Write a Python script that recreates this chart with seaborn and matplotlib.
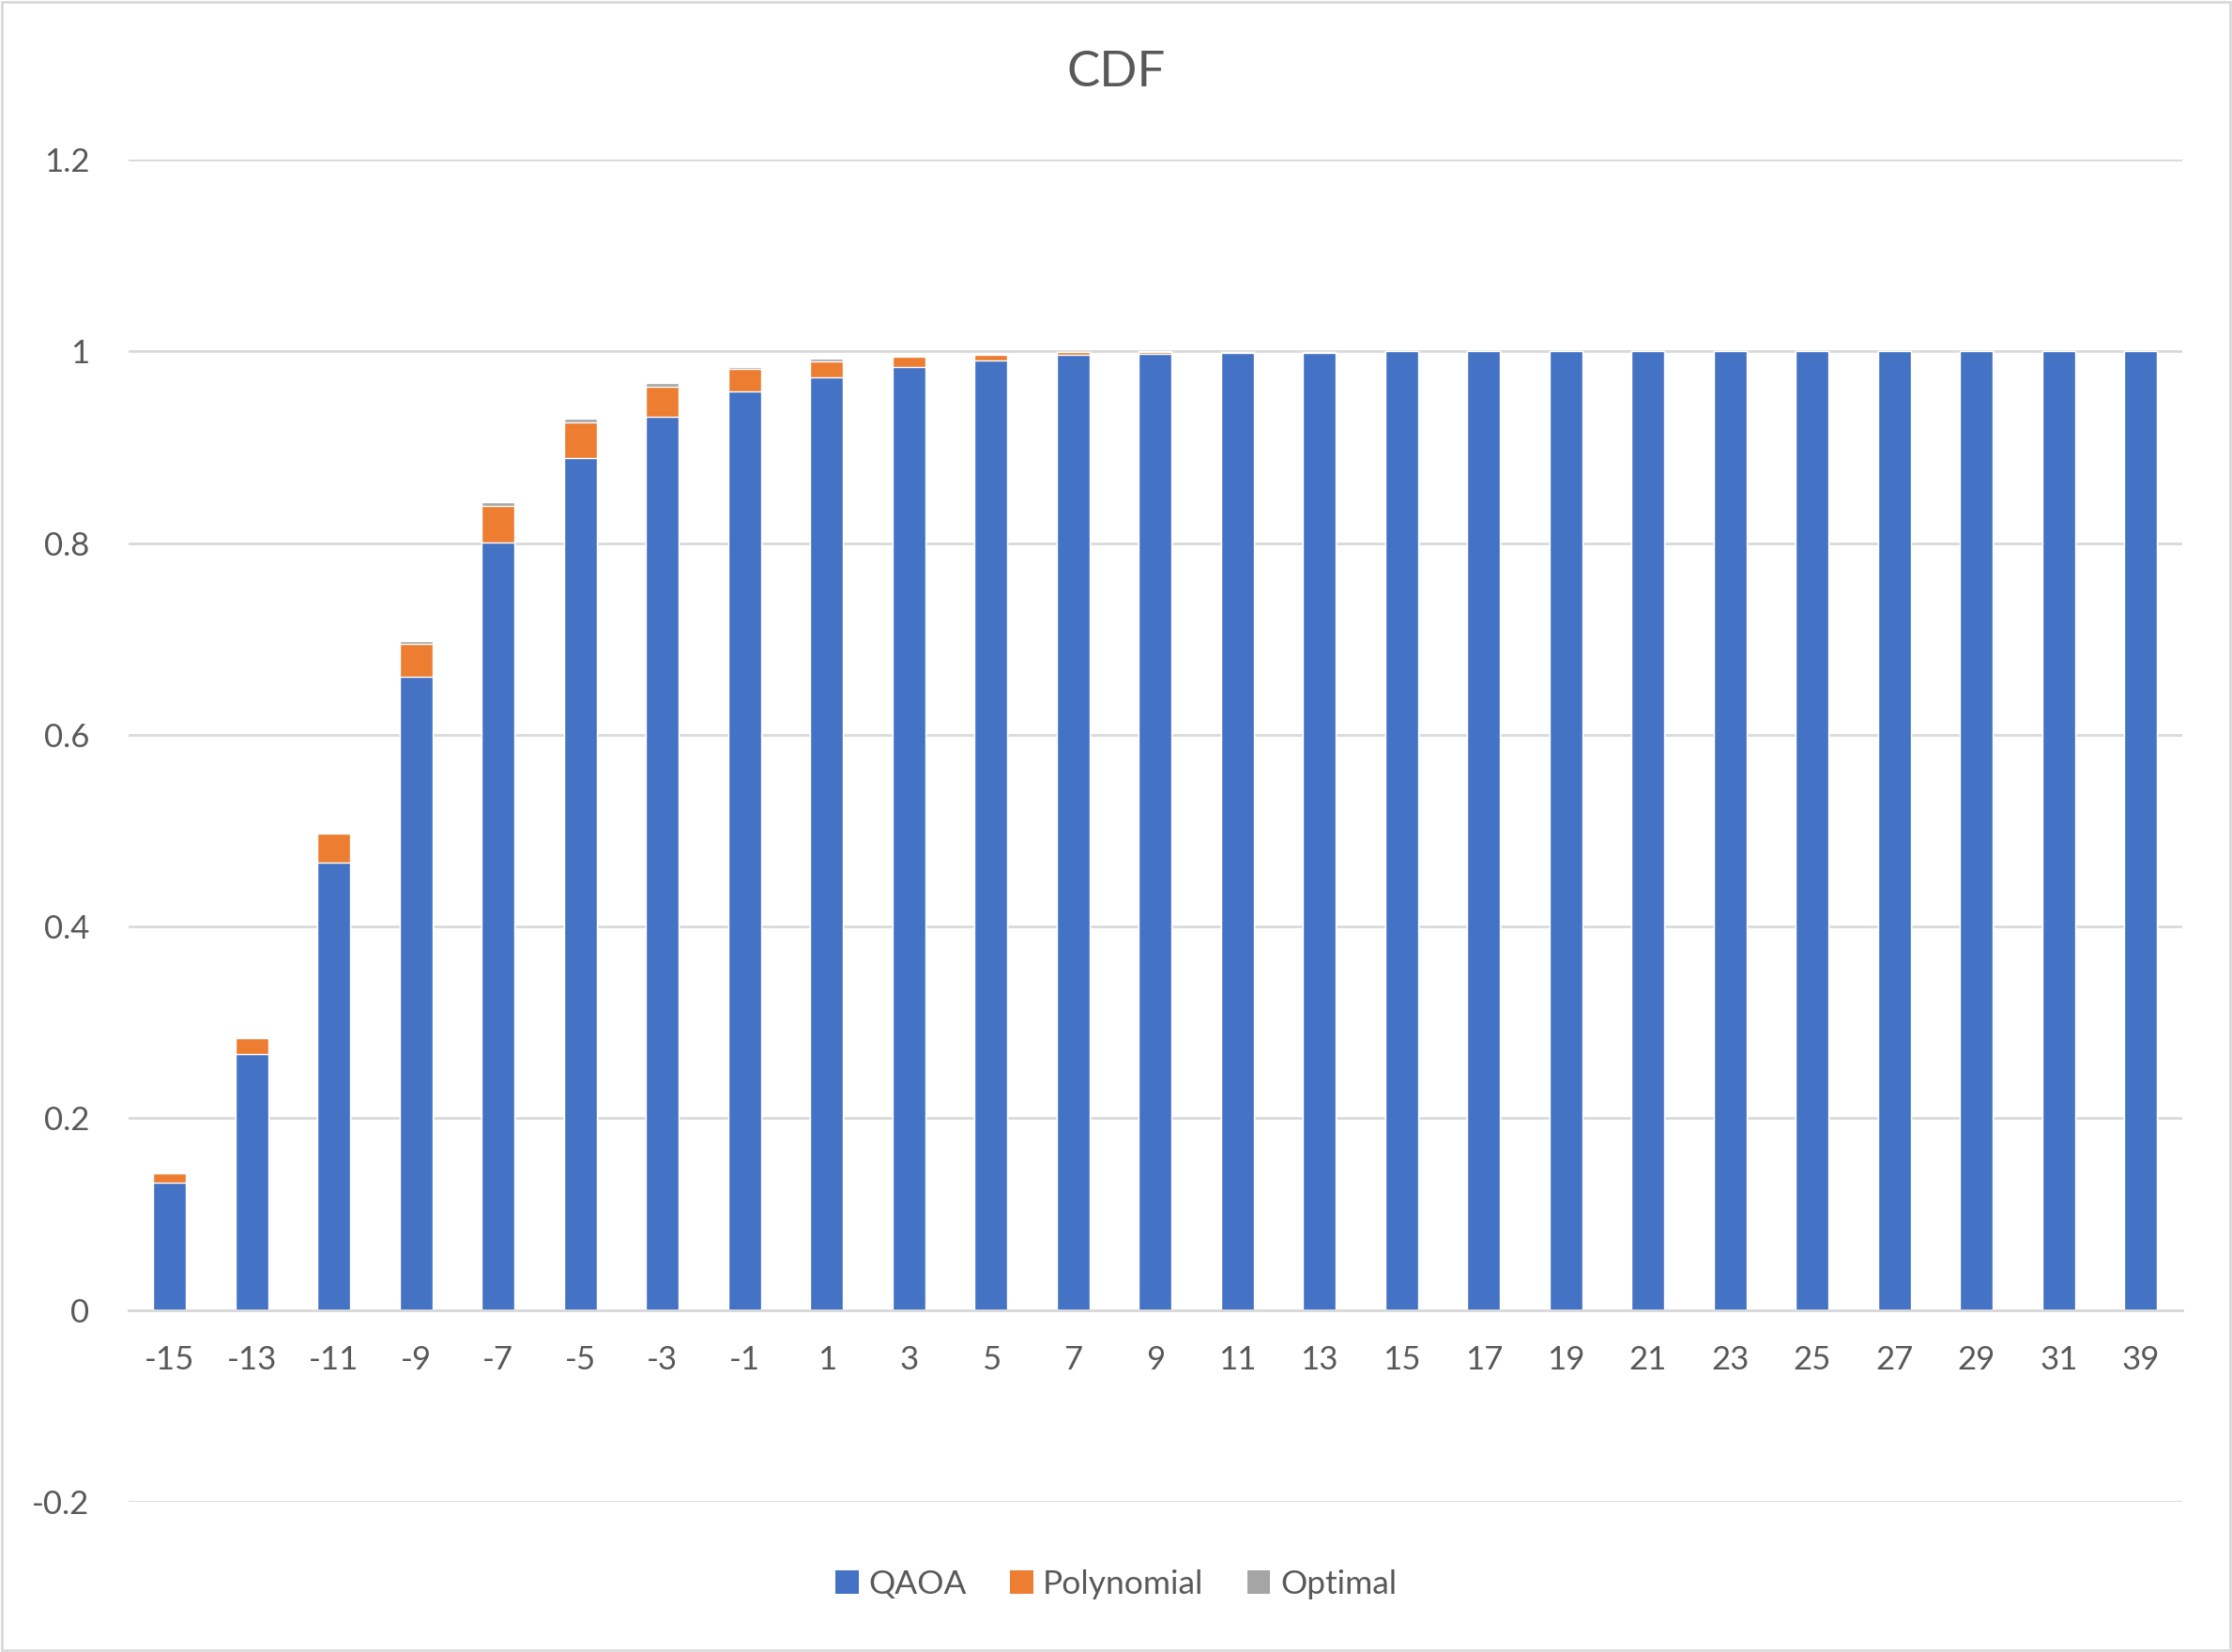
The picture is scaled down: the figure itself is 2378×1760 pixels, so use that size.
import pandas as pd
import numpy as np
import matplotlib
matplotlib.use("Agg")
import matplotlib.pyplot as plt
import seaborn as sns
from matplotlib.patches import Patch, Rectangle

categories = ["-15", "-13", "-11", "-9", "-7", "-5", "-3", "-1", "1", "3", "5", "7",
              "9", "11", "13", "15", "17", "19", "21", "23", "25", "27", "29", "31", "39"]
qaoa = [0.133, 0.267, 0.467, 0.661, 0.801, 0.889, 0.932, 0.958, 0.973, 0.984, 0.9905, 0.996,
        0.9977, 0.998, 0.998, 1.0, 1.0, 1.0, 1.0, 1.0, 1.0, 1.0, 1.0, 1.0, 1.0]
polynomial = [0.010, 0.017, 0.030, 0.034, 0.038, 0.037, 0.031, 0.024, 0.017, 0.010, 0.006, 0.003,
              0.002, 0.0015, 0.0015, 0, 0, 0, 0, 0, 0, 0, 0, 0, 0]
optimal = [0.0, 0.0, 0.001, 0.003, 0.004, 0.004, 0.004, 0.002, 0.002, 0.0005, 0.0005, 0.0005,
           0.0003, 0.0002, 0.0002, 0, 0, 0, 0, 0, 0, 0, 0, 0, 0]

colors = {"QAOA": "#4472C4", "Polynomial": "#ED7D31", "Optimal": "#A5A5A5"}
text_color = "#595959"
grid_color = "#D9D9D9"

df = pd.DataFrame({"x": categories, "QAOA": qaoa, "Polynomial": polynomial, "Optimal": optimal})
df["poly_top"] = df["QAOA"] + df["Polynomial"]
df["total"] = df["poly_top"] + df["Optimal"]

sns.set_style("white")
plt.rcParams["font.family"] = ["Lato", "DejaVu Sans"]

fig = plt.figure(figsize=(23.78, 17.60), dpi=100)
ax = fig.add_axes([0.0576, 0.0909, 0.92, 0.8125])

# stacked bars: draw cumulative totals, biggest first
for col, name in [("total", "Optimal"), ("poly_top", "Polynomial"), ("QAOA", "QAOA")]:
    sns.barplot(data=df, x="x", y=col, order=categories, color=colors[name],
                saturation=1, width=0.4, ax=ax, errorbar=None)

ax.set_ylim(-0.2, 1.2)
ax.set_yticks([-0.2, 0, 0.2, 0.4, 0.6, 0.8, 1.0, 1.2])
ax.set_yticklabels(["-0.2", "0", "0.2", "0.4", "0.6", "0.8", "1", "1.2"])
ax.set_xlim(-0.5, len(categories) - 0.5)
ax.yaxis.grid(True, color=grid_color, linewidth=2)
ax.set_axisbelow(True)
for s in ["top", "right", "left"]:
    ax.spines[s].set_visible(False)
ax.spines["bottom"].set_position(("data", 0))
ax.spines["bottom"].set_color(grid_color)
ax.spines["bottom"].set_linewidth(2)
ax.tick_params(axis="both", length=0, labelsize=25, colors=text_color)
ax.tick_params(axis="x", pad=27)
ax.tick_params(axis="y", pad=30)
ax.set_xlabel("")
ax.set_ylabel("")

fig.text(0.5, 0.956, "CDF", ha="center", va="center", fontsize=38, color=text_color)

handles = [Patch(facecolor=colors[k], edgecolor="none") for k in ["QAOA", "Polynomial", "Optimal"]]
fig.legend(handles, ["QAOA", "Polynomial", "Optimal"], loc="center", bbox_to_anchor=(0.5, 0.041),
           ncol=3, frameon=False, fontsize=25.5, labelcolor=text_color,
           handlelength=0.7, handleheight=0.7, handletextpad=0.3, columnspacing=1.3)

fig.patches.append(Rectangle((0.001, 0.001), 0.998, 0.998, transform=fig.transFigure,
                             fill=False, edgecolor=grid_color, linewidth=2))

fig.savefig("out.png", dpi=100, facecolor="white")
